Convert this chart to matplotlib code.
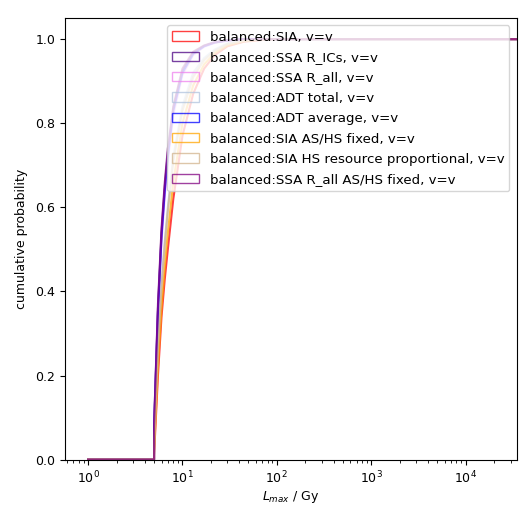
import matplotlib
matplotlib.use("Agg")
import matplotlib.pyplot as plt
from matplotlib.patches import Patch

plt.rcParams["font.size"] = 9

# dose grid (Gy) and cumulative probabilities
dose = [1, 5, 5, 5.5, 6, 6.5, 7, 8, 10, 13, 17, 22, 30, 45, 70, 100, 40000]

labels = [
    "balanced:SIA, v=v",
    "balanced:SSA R_ICs, v=v",
    "balanced:SSA R_all, v=v",
    "balanced:ADT total, v=v",
    "balanced:ADT average, v=v",
    "balanced:SIA AS/HS fixed, v=v",
    "balanced:SIA HS resource proportional, v=v",
    "balanced:SSA R_all AS/HS fixed, v=v",
]
colors = ["red", "indigo", "violet", "lightsteelblue", "blue", "orange", "tan", "purple"]

cdf_sia = [0, 0, 0.01, 0.20, 0.34, 0.43, 0.50, 0.62, 0.77, 0.87, 0.93, 0.962, 0.983, 0.994, 0.998, 1, 1]
cdf_ssa_ics = [0, 0, 0.08, 0.36, 0.54, 0.65, 0.73, 0.835, 0.925, 0.968, 0.984, 0.992, 0.997, 1, 1, 1, 1]
cdf_ssa_all = [0, 0, 0.07, 0.34, 0.52, 0.63, 0.71, 0.82, 0.915, 0.962, 0.982, 0.991, 0.996, 0.999, 1, 1, 1]
cdf_adt_total = [0, 0, 0.03, 0.27, 0.42, 0.52, 0.60, 0.72, 0.84, 0.92, 0.955, 0.975, 0.99, 0.997, 1, 1, 1]
cdf_adt_avg = [0, 0, 0.07, 0.35, 0.53, 0.64, 0.72, 0.83, 0.92, 0.965, 0.983, 0.992, 0.997, 1, 1, 1, 1]
cdf_sia_fixed = [0, 0, 0.02, 0.22, 0.36, 0.46, 0.54, 0.66, 0.80, 0.89, 0.94, 0.967, 0.985, 0.995, 0.999, 1, 1]
cdf_sia_prop = [0, 0, 0.03, 0.26, 0.41, 0.51, 0.59, 0.71, 0.83, 0.91, 0.95, 0.972, 0.988, 0.996, 0.999, 1, 1]
cdf_ssa_all_fixed = [0, 0, 0.08, 0.37, 0.55, 0.66, 0.74, 0.84, 0.93, 0.97, 0.985, 0.993, 0.997, 1, 1, 1, 1]

series = [cdf_sia, cdf_ssa_ics, cdf_ssa_all, cdf_adt_total,
          cdf_adt_avg, cdf_sia_fixed, cdf_sia_prop, cdf_ssa_all_fixed]

fig = plt.figure(figsize=(5.29, 5.17), dpi=100)
ax = fig.add_axes([0.123, 0.111, 0.854, 0.854])

for cdf, c in zip(series, colors):
    ax.plot(dose, cdf, color=c, alpha=0.75, lw=1.5)

ax.set_xscale("log")
ax.set_xlim(0.57, 35000)
ax.set_ylim(0, 1.05)
ax.set_xlabel("$L_{max}$ / Gy", labelpad=2.5)
ax.set_ylabel("cumulative probability", labelpad=5.5)

handles = [Patch(facecolor="none", edgecolor=c, alpha=0.75, label=l) for c, l in zip(colors, labels)]
ax.legend(handles=handles, loc="upper right", fontsize=9.6, labelspacing=0.55,
          borderaxespad=0.55)

fig.savefig("out.png", dpi=100)
